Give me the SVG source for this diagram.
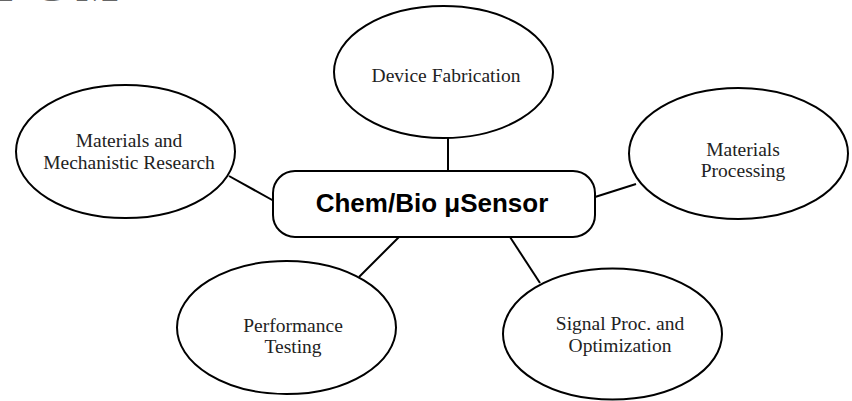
<svg xmlns="http://www.w3.org/2000/svg" width="852" height="401" viewBox="0 0 852 401">
<style>
.bg{fill:#fff}
.node ellipse{fill:#fff;stroke:#000;stroke-width:2}
.node text{font-family:"Liberation Serif","Times New Roman",serif;font-size:19.5px;fill:#222;text-anchor:middle}
.hub rect{fill:#fff;stroke:#000;stroke-width:2}
.hub text{font-family:"Liberation Sans",Arial,sans-serif;font-size:26px;font-weight:bold;fill:#000;text-anchor:middle}
.edges line{stroke:#000;stroke-width:2}
.frag{font-family:"Liberation Serif","Times New Roman",serif;font-size:45px;font-weight:bold;fill:#666}
</style>
<rect class="bg" width="852" height="401"/>
<text class="frag" x="-4 33 76" y="1">ICM</text>
<g id="connectors" class="edges">
<line x1="448" y1="138" x2="448" y2="171"/>
<line x1="229" y1="176" x2="274" y2="201"/>
<line x1="595" y1="197" x2="636" y2="184"/>
<line x1="359" y1="277" x2="399" y2="237"/>
<line x1="540" y1="283" x2="510" y2="237"/>
</g>
<g id="device-fabrication" class="node">
<ellipse cx="443.5" cy="72" rx="109.5" ry="66"/>
<text x="446" y="82">Device Fabrication</text>
</g>
<g id="materials-mechanistic" class="node">
<ellipse cx="125.5" cy="151.5" rx="109.5" ry="66.5"/>
<text x="129" y="147">Materials and</text>
<text x="129" y="169">Mechanistic Research</text>
</g>
<g id="materials-processing" class="node">
<ellipse cx="738.5" cy="153.5" rx="109.5" ry="65.5"/>
<text x="743" y="156">Materials</text>
<text x="743" y="177">Processing</text>
</g>
<g id="performance-testing" class="node">
<ellipse cx="286.5" cy="327.5" rx="109.5" ry="66.5"/>
<text x="293" y="332">Performance</text>
<text x="293" y="353">Testing</text>
</g>
<g id="signal-proc" class="node">
<ellipse cx="612.5" cy="334" rx="109.5" ry="65.5"/>
<text x="620" y="330">Signal Proc. and</text>
<text x="620" y="352">Optimization</text>
</g>
<g id="hub" class="hub">
<rect x="273" y="171" width="322" height="66" rx="22" ry="22"/>
<text x="432" y="212">Chem/Bio μSensor</text>
</g>
</svg>
